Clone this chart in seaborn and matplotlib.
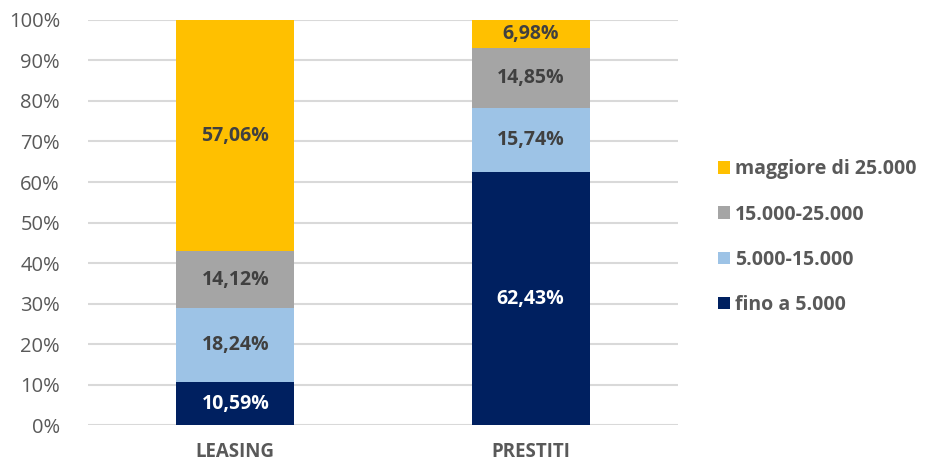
import numpy as np
import pandas as pd
import matplotlib

matplotlib.use("Agg")
import matplotlib.pyplot as plt
import seaborn as sns
from matplotlib.patches import Patch

# dati
categorie = ["LEASING", "PRESTITI"]
fasce = ["fino a 5.000", "5.000-15.000", "15.000-25.000", "maggiore di 25.000"]
fino_5000 = [10.59, 62.43]
da_5000_15000 = [18.24, 15.74]
da_15000_25000 = [14.12, 14.85]
oltre_25000 = [57.06, 6.98]

colori = ["#002060", "#9DC3E6", "#A5A5A5", "#FFC000"]
colori_testo = ["white", "#404040", "#404040", "#404040"]

sns.set_style("white")
plt.rcParams["font.family"] = ["Open Sans", "DejaVu Sans"]

serie = [fino_5000, da_5000_15000, da_15000_25000, oltre_25000]
df = pd.DataFrame({f: v for f, v in zip(fasce, serie)}, index=categorie)
cum = df.cumsum(axis=1)

fig = plt.figure(figsize=(9.33, 4.65), dpi=100)
ax = fig.add_axes([0.094, 0.086, 0.633, 0.871])

# barre cumulate, dalla più alta alla più bassa
for fascia, col in reversed(list(zip(fasce, colori))):
    sns.barplot(x=categorie, y=cum[fascia].values, color=col, width=0.4,
                ax=ax, saturation=1, linewidth=0, zorder=2)

# etichette
for i, cat in enumerate(categorie):
    base = 0
    for fascia, tc in zip(fasce, colori_testo):
        v = df.loc[cat, fascia]
        testo = f"{v:.2f}".replace(".", ",") + "%"
        ax.text(i, base + v / 2, testo, ha="center", va="center",
                color=tc, fontsize=14, fontweight="bold", zorder=3)
        base += v

ax.set_ylim(0, 100)
ax.set_xlim(-0.5, 1.5)
ax.set_yticks(np.arange(0, 101, 10))
ax.set_yticklabels([f"{t}%" for t in range(0, 101, 10)])
ax.yaxis.grid(True, color="#D9D9D9", linewidth=1.5, zorder=0)
ax.set_axisbelow(True)
for s in ax.spines.values():
    s.set_visible(False)
ax.tick_params(axis="both", length=0, labelsize=14.5, colors="#595959")
ax.tick_params(axis="x", pad=12)
ax.tick_params(axis="y", pad=20)
for lab in ax.get_xticklabels():
    lab.set_fontweight("bold")
    lab.set_fontsize(13.5)
ax.set_xlabel("")
ax.set_ylabel("")

handles = [Patch(facecolor=c, edgecolor="none", label=f)
           for f, c in zip(fasce, colori)][::-1]
leg = fig.legend(handles=handles, loc="center left", bbox_to_anchor=(0.77, 0.49),
                 frameon=False, fontsize=14, handlelength=0.6, handleheight=0.6,
                 handletextpad=0.25, labelspacing=1.3, borderpad=0,
                 borderaxespad=0)
for t in leg.get_texts():
    t.set_color("#595959")
    t.set_fontweight("bold")

plt.savefig("out.png", dpi=100)
plt.close()
